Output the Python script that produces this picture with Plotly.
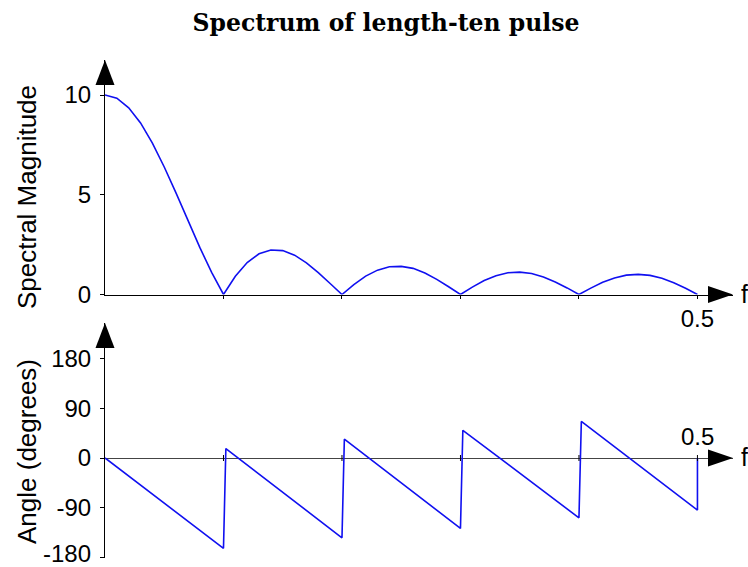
import plotly.graph_objects as go

# ---------------- data ----------------
freq = [0.00, 0.01, 0.02, 0.03, 0.04, 0.05, 0.06, 0.07, 0.08, 0.09,
        0.10, 0.11, 0.12, 0.13, 0.14, 0.15, 0.16, 0.17, 0.18, 0.19,
        0.20, 0.21, 0.22, 0.23, 0.24, 0.25, 0.26, 0.27, 0.28, 0.29,
        0.30, 0.31, 0.32, 0.33, 0.34, 0.35, 0.36, 0.37, 0.38, 0.39,
        0.40, 0.41, 0.42, 0.43, 0.44, 0.45, 0.46, 0.47, 0.48, 0.49, 0.50]
magnitude = [10.0, 9.84, 9.36, 8.60, 7.59, 6.39, 5.08, 3.71, 2.36, 1.11,
             0.00, 0.91, 1.60, 2.04, 2.23, 2.20, 1.97, 1.59, 1.10, 0.55,
             0.00, 0.50, 0.92, 1.22, 1.39, 1.41, 1.31, 1.08, 0.76, 0.39,
             0.00, 0.37, 0.70, 0.94, 1.09, 1.12, 1.05, 0.88, 0.63, 0.33,
             0.00, 0.32, 0.61, 0.83, 0.97, 1.01, 0.96, 0.81, 0.59, 0.31, 0.00]

phase_freq = [0.0, 0.1, 0.102, 0.2, 0.202, 0.3, 0.302, 0.4, 0.402, 0.5, 0.5]
phase_deg = [0, -163, 17, -144, 34, -127, 50, -108, 66, -94, 0]

mag_ticks = [0, 5, 10]
ang_ticks = [-180, -90, 0, 90, 180]
ang_ticktext = ["", "-90", "0", "90", "180"]
ang_bottom_label = "-180"
x_ticks = [0.1, 0.2, 0.3, 0.4, 0.5]
x_ticktext = ["", "", "", "", "0.5"]

title_text = "Spectrum of length-ten pulse"
mag_label = "Spectral Magnitude"
ang_label = "Angle (degrees)"

# ---------------- geometry (pixels) ----------------
W, H = 748, 567
L, R = 105, 15
PW = W - L - R
XMAX = 0.53

top_px, zero1_px = 60, 294.5
top2_px, zero2_px, bot2_px = 323, 458, 558
mag_scale = 19.95      # px per unit
ang_scale = 0.5542     # px per degree


def py(p):
    return 1 - p / H


def px(p):
    return (p - L) / PW


blue = "#1010f0"
sans = "Liberation Sans, Arial, Helvetica, sans-serif"

fig = go.Figure()
fig.add_trace(go.Scatter(x=freq, y=magnitude, mode="lines",
                         line=dict(color=blue, width=1.6),
                         xaxis="x", yaxis="y", showlegend=False))
fig.add_trace(go.Scatter(x=phase_freq, y=phase_deg, mode="lines",
                         line=dict(color=blue, width=1.6),
                         xaxis="x2", yaxis="y2", showlegend=False))

y1max = (zero1_px - top_px) / mag_scale
y2max = (zero2_px - top2_px) / ang_scale
y2min = -(bot2_px - zero2_px) / ang_scale

fig.update_layout(
    width=W, height=H,
    margin=dict(l=L, r=R, t=0, b=0),
    paper_bgcolor="white", plot_bgcolor="white",
    font=dict(family=sans, size=24, color="black"),
    title=dict(text="<b>" + title_text + "</b>",
               font=dict(family="DejaVu Serif, serif", size=23.5, color="black"),
               x=386 / W, xanchor="center", xref="container",
               y=1 - 23 / H, yanchor="middle", yref="container"),
    xaxis=dict(domain=[0, 1], range=[0, XMAX], anchor="y",
               showline=True, linecolor="black", linewidth=1,
               showgrid=False, zeroline=False,
               tickvals=x_ticks, ticktext=x_ticktext,
               ticks="outside", ticklen=3, tickcolor="black",
               tickfont=dict(size=24), automargin=False),
    yaxis=dict(domain=[py(zero1_px), py(top_px)], range=[0, y1max], anchor="x",
               showline=True, linecolor="black", linewidth=1,
               showgrid=False, zeroline=False,
               tickvals=mag_ticks, ticks="outside", ticklen=4,
               ticklabelstandoff=4,
               tickcolor="black", tickfont=dict(size=24), automargin=False),
    xaxis2=dict(domain=[0, 1], range=[0, XMAX], anchor="y2",
                showline=False, showgrid=False, zeroline=False,
                showticklabels=False, ticks=""),
    yaxis2=dict(domain=[py(bot2_px), py(top2_px)], range=[y2min, y2max],
                anchor="x2",
                showline=True, linecolor="black", linewidth=1,
                showgrid=False, zeroline=True, zerolinecolor="#444444",
                zerolinewidth=1,
                tickvals=ang_ticks, ticktext=ang_ticktext,
                ticks="outside", ticklen=4, ticklabelstandoff=4,
                ticklabeloverflow="allow",
                tickcolor="black", tickfont=dict(size=24), automargin=False),
)

shapes = []
# y-axis arrowheads
for tip in (top_px, top2_px):
    shapes.append(dict(type="path", xref="paper", yref="paper",
                       xsizemode="pixel", ysizemode="pixel",
                       xanchor=0, yanchor=py(tip),
                       path="M -9.5,-25 L 0,0 L 9.5,-25 Z",
                       fillcolor="black", line=dict(width=0)))
# x-axis arrowheads
for yz in (zero1_px, zero2_px):
    shapes.append(dict(type="path", xref="paper", yref="paper",
                       xsizemode="pixel", ysizemode="pixel",
                       xanchor=1, yanchor=py(yz),
                       path="M -25,-8.5 L 0,0 L -25,8.5 Z",
                       fillcolor="black", line=dict(width=0)))
# small tick marks on the lower frequency axis
for xv in x_ticks:
    shapes.append(dict(type="line", xref="x2", yref="paper",
                       ysizemode="pixel", yanchor=py(zero2_px),
                       x0=xv, x1=xv, y0=-3, y1=3,
                       line=dict(color="black", width=1)))
fig.update_layout(shapes=shapes)

annotations = [
    dict(text="f", xref="paper", yref="paper", x=px(744), y=py(zero1_px - 1),
         xanchor="center", yanchor="middle", showarrow=False,
         font=dict(size=25)),
    dict(text="f", xref="paper", yref="paper", x=px(744), y=py(zero2_px - 1),
         xanchor="center", yanchor="middle", showarrow=False,
         font=dict(size=25)),
    dict(text="0.5", xref="x2", yref="paper", x=0.5, y=py(436.5),
         xanchor="center", yanchor="middle", showarrow=False,
         font=dict(size=24)),
    dict(text=ang_bottom_label, xref="paper", yref="paper", x=px(93),
         y=py(553), xanchor="right", yanchor="middle", showarrow=False,
         font=dict(size=24)),
    dict(text=mag_label, xref="paper", yref="paper", x=px(27), y=py(197),
         xanchor="center", yanchor="middle", showarrow=False, textangle=-90,
         font=dict(size=26)),
    dict(text=ang_label, xref="paper", yref="paper", x=px(27), y=py(452),
         xanchor="center", yanchor="middle", showarrow=False, textangle=-90,
         font=dict(size=26)),
]
fig.update_layout(annotations=annotations)

fig.write_html("out.html",
               config={"displayModeBar": False},
               post_script="document.body.style.margin='0';"
                           "document.body.style.overflow='hidden';")
